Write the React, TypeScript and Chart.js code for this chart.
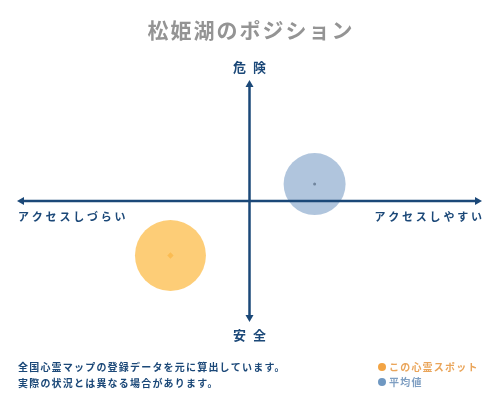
import { useEffect, useRef } from "react";
import { Chart, registerables, Plugin } from "chart.js";

Chart.register(...registerables);

// positions on the map: x = access (easy +), y = danger (+)
const seriesNames = ["この心霊スポット", "平均値"];
const spotX = [-3.4];
const spotY = [-4.5];
const avgX = [2.8];
const avgY = [1.4];
const bubbleSizes = [35.5, 31];

const titleText = "松姫湖のポジション";
const axisTop = "危険";
const axisBottom = "安全";
const axisLeft = "アクセスしづらい";
const axisRight = "アクセスしやすい";
const notes = ["全国心霊マップの登録データを元に算出しています。", "実際の状況とは異なる場合があります。"];

const NAVY = "#1b4878";
const FONT = '"Noto Sans CJK JP", "Noto Sans", sans-serif';

const mapPlugin: Plugin<"bubble"> = {
  id: "positionMap",
  afterDatasetsDraw(chart) {
    const { ctx, chartArea, scales } = chart;
    const cx = scales.x.getPixelForValue(0);
    const cy = scales.y.getPixelForValue(0);
    const head = 6;

    ctx.save();
    ctx.strokeStyle = NAVY;
    ctx.fillStyle = NAVY;
    ctx.lineWidth = 2.5;

    // horizontal axis
    ctx.beginPath();
    ctx.moveTo(chartArea.left + head, cy);
    ctx.lineTo(chartArea.right - head, cy);
    ctx.stroke();
    // vertical axis
    ctx.beginPath();
    ctx.moveTo(cx, chartArea.top + head);
    ctx.lineTo(cx, chartArea.bottom - head);
    ctx.stroke();

    const tri = (a: number[], b: number[], c: number[]) => {
      ctx.beginPath();
      ctx.moveTo(a[0], a[1]);
      ctx.lineTo(b[0], b[1]);
      ctx.lineTo(c[0], c[1]);
      ctx.closePath();
      ctx.fill();
    };
    tri([chartArea.left, cy], [chartArea.left + head + 1, cy - 4], [chartArea.left + head + 1, cy + 4]);
    tri([chartArea.right, cy], [chartArea.right - head - 1, cy - 4], [chartArea.right - head - 1, cy + 4]);
    tri([cx, chartArea.top], [cx - 4, chartArea.top + head + 1], [cx + 4, chartArea.top + head + 1]);
    tri([cx, chartArea.bottom], [cx - 4, chartArea.bottom - head - 1], [cx + 4, chartArea.bottom - head - 1]);

    const text = (s: string, x: number, y: number, font: string, color: string, align: CanvasTextAlign, spacing: number) => {
      ctx.font = font;
      ctx.fillStyle = color;
      ctx.textAlign = align;
      ctx.textBaseline = "middle";
      (ctx as any).letterSpacing = spacing + "px";
      // letterSpacing adds trailing space, shift centred/right text back
      const shift = align === "center" ? spacing / 2 : align === "right" ? spacing : 0;
      ctx.fillText(s, x + shift, y);
    };

    text(titleText, 250, 30, `bold 21px ${FONT}`, "#949494", "center", 2);
    text(axisTop, cx, 67, `bold 13px ${FONT}`, NAVY, "center", 7);
    text(axisBottom, cx, 335, `bold 13px ${FONT}`, NAVY, "center", 7);
    text(axisLeft, chartArea.left + 1, 217, `bold 11px ${FONT}`, NAVY, "left", 2.8);
    text(axisRight, chartArea.right, 217, `bold 11px ${FONT}`, NAVY, "right", 2.8);

    text(notes[0], 18, 367, `bold 10px ${FONT}`, NAVY, "left", 1.2);
    text(notes[1], 18, 383, `bold 10px ${FONT}`, NAVY, "left", 1.2);

    // legend
    ctx.beginPath();
    ctx.fillStyle = "#f2a444";
    ctx.arc(382, 367, 4, 0, Math.PI * 2);
    ctx.fill();
    ctx.beginPath();
    ctx.fillStyle = "#6f98c2";
    ctx.arc(382, 382, 4, 0, Math.PI * 2);
    ctx.fill();
    text(seriesNames[0], 389, 367, `bold 10px ${FONT}`, "#eaa55a", "left", 1.2);
    text(seriesNames[1], 389, 382, `bold 10px ${FONT}`, "#7f9fc2", "left", 1.2);

    ctx.restore();
  },
};

export default function App() {
  const canvasRef = useRef<HTMLCanvasElement>(null);

  useEffect(() => {
    if (!canvasRef.current) return;
    const chart = new Chart(canvasRef.current, {
      type: "bubble",
      data: {
        datasets: [
          {
            label: seriesNames[0],
            data: spotX.map((x, i) => ({ x, y: spotY[i], r: bubbleSizes[0] })),
            backgroundColor: "rgba(253, 196, 95, 0.85)",
            borderWidth: 0,
          },
          {
            label: seriesNames[1],
            data: avgX.map((x, i) => ({ x, y: avgY[i], r: bubbleSizes[1] })),
            backgroundColor: "rgba(150, 177, 209, 0.75)",
            borderWidth: 0,
          },
          {
            label: "spot-centre",
            data: spotX.map((x, i) => ({ x, y: spotY[i], r: 3.2 })),
            backgroundColor: "#f0900c",
            pointStyle: "rectRot",
            borderWidth: 0,
          },
          {
            label: "avg-centre",
            data: avgX.map((x, i) => ({ x, y: avgY[i], r: 1.5 })),
            backgroundColor: "#000000",
            borderWidth: 0,
          },
        ],
      },
      options: {
        animation: false,
        responsive: false,
        layout: { autoPadding: false, padding: { left: 17, right: 18, top: 80, bottom: 78 } },
        plugins: { legend: { display: false }, tooltip: { enabled: false }, title: { display: false } },
        scales: {
          x: { min: -10, max: 10, display: false },
          y: { min: -10, max: 10, display: false },
        },
      },
      plugins: [mapPlugin],
    });
    return () => chart.destroy();
  }, []);

  return (
    <div style={{ position: "fixed", left: 0, top: 0, width: 500, height: 400, background: "#fff" }}>
      <canvas ref={canvasRef} width={500} height={400} style={{ width: 500, height: 400 }} />
    </div>
  );
}
